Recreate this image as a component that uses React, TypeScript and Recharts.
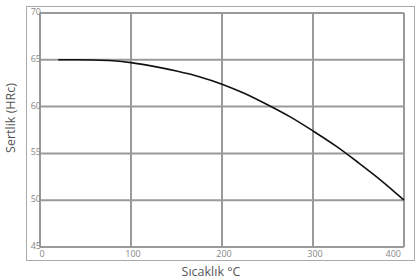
import React from 'react';
import { LineChart, Line, XAxis, YAxis, CartesianGrid } from 'recharts';

// temperature (°C) vs hardness (HRc)
const temps = [20, 40, 60, 80, 100, 125, 150, 175, 200, 225, 250, 275, 300, 325, 350, 375, 400];
const hardness = [65.0, 65.0, 64.98, 64.9, 64.7, 64.3, 63.8, 63.2, 62.4, 61.4, 60.2, 58.9, 57.4, 55.8, 54.0, 52.1, 50.0];

const xTicks = [0, 100, 200, 300, 400];
const yTicks = [45, 50, 55, 60, 65, 70];

const data = temps.map((t, i) => ({ t, hrc: hardness[i] }));

const FONT = '"Open Sans", "DejaVu Sans", sans-serif';

const XTick = ({ x, y, payload }: any) => {
  const last = payload.value === 400;
  return (
    <text
      x={last ? x - 3 : x + 2}
      y={y - 6}
      textAnchor={last ? 'end' : 'middle'}
      dominantBaseline="hanging"
      fontSize={9}
      fontFamily={FONT}
      fill="#888"
    >
      {payload.value}
    </text>
  );
};

const YTick = ({ x, y, payload }: any) => (
  <text x={x + 9} y={y + 2} textAnchor="end" fontSize={9} fontFamily={FONT} fill="#888">
    {payload.value}
  </text>
);

const App: React.FC = () => {
  return (
    <div style={{ position: 'absolute', left: 0, top: 0, width: 418, height: 280, background: '#fff' }}>
      {/* outer frame */}
      <div
        style={{
          position: 'absolute',
          left: 26,
          top: 6,
          width: 387,
          height: 253,
          border: '1.5px solid #aaa',
        }}
      />
      <div style={{ position: 'absolute', left: 0, top: 0 }}>
        <LineChart width={418} height={280} data={data} margin={{ top: 13, right: 14, left: 0, bottom: 0 }}>
          <CartesianGrid stroke="#9a9a9a" strokeWidth={2} />
          <XAxis
            dataKey="t"
            type="number"
            domain={[0, 400]}
            ticks={xTicks}
            height={33}
            axisLine={false}
            tickLine={false}
            tick={<XTick />}
            label={(props: any) => (
              <text x={211} y={276} textAnchor="middle" fontSize={12.5} fontFamily={FONT} fill="#555">
                Sıcaklık °C
              </text>
            )}
          />
          <YAxis
            type="number"
            domain={[45, 70]}
            ticks={yTicks}
            width={40}
            axisLine={false}
            tickLine={false}
            tick={<YTick />}
            label={(props: any) => (
              <text
                transform="translate(15,118) rotate(-90)"
                textAnchor="middle"
                fontSize={12.5}
                fontFamily={FONT}
                fill="#555"
              >
                Sertlik (HRc)
              </text>
            )}
          />
          <Line
            type="monotone"
            dataKey="hrc"
            stroke="#111"
            strokeWidth={1.6}
            dot={false}
            isAnimationActive={false}
          />
        </LineChart>
      </div>
    </div>
  );
};

export default App;
